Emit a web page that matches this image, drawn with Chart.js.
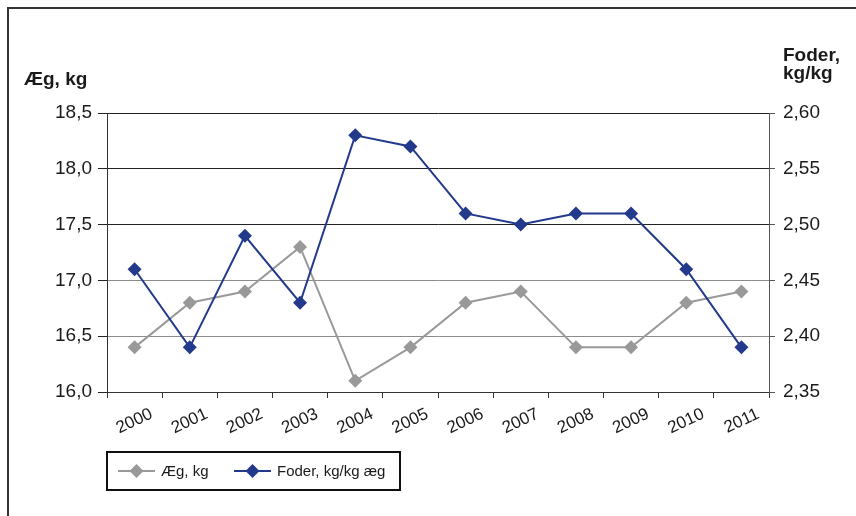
<!DOCTYPE html>
<html lang="da">
<head>
<meta charset="utf-8">
<title>Æg og foder</title>
<style>
  body { margin: 0; background: #fff; }
  #wrap { width: 856px; height: 516px; }
</style>
</head>
<body>
<div id="wrap"><canvas id="myChart" width="856" height="516"></canvas></div>

<script src="https://cdn.jsdelivr.net/npm/chart.js"></script>
<script>
  // data
  const years  = ['2000','2001','2002','2003','2004','2005','2006','2007','2008','2009','2010','2011'];
  const aeg    = [16.4, 16.8, 16.9, 17.3, 16.1, 16.4, 16.8, 16.9, 16.4, 16.4, 16.8, 16.9];
  const foder  = [2.46, 2.39, 2.49, 2.43, 2.58, 2.57, 2.51, 2.50, 2.51, 2.51, 2.46, 2.39];
  const aegLabel   = 'Æg, kg';
  const foderLabel = 'Foder, kg/kg æg';
  const leftTitle  = 'Æg, kg';
  const rightTitle = ['Foder,', 'kg/kg'];

  const GREY = '#999999';
  const BLUE = '#22398c';
  const FONT = '"Liberation Sans", Arial, sans-serif';

  const comma = (v, d) => Number(v).toFixed(d).replace('.', ',');

  // frame, axis titles and boxed legend
  const decor = {
    id: 'decor',
    beforeDraw(chart) {
      const c = chart.ctx;
      c.save();
      c.strokeStyle = '#333';
      c.lineWidth = 2;
      c.beginPath();
      c.moveTo(8, 516);
      c.lineTo(8, 8);
      c.lineTo(856, 8);
      c.stroke();
      c.restore();
    },
    afterDraw(chart) {
      const c = chart.ctx;
      const a = chart.chartArea;
      c.save();
      c.fillStyle = '#1a1a1a';
      c.font = 'bold 19px ' + FONT;
      c.textBaseline = 'alphabetic';
      c.textAlign = 'left';
      c.fillText(leftTitle, 24, 85);
      c.fillText(rightTitle[0], a.right + 14, 61);
      c.fillText(rightTitle[1], a.right + 14, 79);

      // legend box
      const bx = a.left, by = 452, bw = 293, bh = 38;
      c.strokeStyle = '#111';
      c.lineWidth = 2;
      c.strokeRect(bx, by, bw, bh);
      const items = chart.data.datasets.map(d => ({label: d.label, color: d.borderColor}));
      const xs = [bx + 11, bx + 127];
      c.font = '15px ' + FONT;
      c.textBaseline = 'middle';
      items.forEach((it, i) => {
        const x0 = xs[i], y0 = by + bh / 2;
        c.strokeStyle = it.color;
        c.lineWidth = 2;
        c.beginPath();
        c.moveTo(x0, y0);
        c.lineTo(x0 + 37, y0);
        c.stroke();
        c.fillStyle = it.color;
        c.beginPath();
        c.moveTo(x0 + 18.5, y0 - 7);
        c.lineTo(x0 + 25.5, y0);
        c.lineTo(x0 + 18.5, y0 + 7);
        c.lineTo(x0 + 11.5, y0);
        c.closePath();
        c.fill();
        c.fillStyle = '#1a1a1a';
        c.fillText(it.label, x0 + 43, y0 + 1);
      });
      c.restore();
    }
  };

  const ctx = document.getElementById('myChart');

  const chart = new Chart(ctx, {
    type: 'line',
    data: {
      labels: years,
      datasets: [{
        label: aegLabel,
        data: aeg,
        yAxisID: 'y',
        borderColor: GREY,
        backgroundColor: GREY,
        borderWidth: 2,
        pointStyle: 'rectRot',
        pointRadius: 7,
        pointBorderWidth: 0,
        order: 1
      }, {
        label: foderLabel,
        data: foder,
        yAxisID: 'y1',
        borderColor: BLUE,
        backgroundColor: BLUE,
        borderWidth: 2,
        pointStyle: 'rectRot',
        pointRadius: 7,
        pointBorderWidth: 0,
        order: 0
      }]
    },
    options: {
      responsive: false,
      animation: false,
      layout: {padding: {top: 113, left: 0, right: 0, bottom: 0}},
      plugins: {legend: {display: false}, tooltip: {enabled: false}},
      scales: {
        x: {
          offset: true,
          grid: {drawOnChartArea: false, offset: true, tickLength: 6, color: '#333'},
          border: {color: '#333', width: 1},
          ticks: {
            color: '#1a1a1a',
            font: {family: FONT, size: 17},
            minRotation: 25, maxRotation: 25,
            labelOffset: 17,
            padding: 6
          },
          afterFit: (s) => { s.height = 124; }
        },
        y: {
          position: 'left',
          min: 16.0, max: 18.5,
          afterBuildTicks: (axis) => { axis.ticks = [16.0, 16.5, 17.0, 17.5, 18.0, 18.5].map(v => ({value: v})); },
          grid: {
            color: (c) => (c.tick && c.tick.value < 17.5 && c.tick.value > 16.0) ? '#8c8c8c' : '#222',
            tickColor: '#222',
            tickLength: 9
          },
          border: {color: '#333', width: 1},
          ticks: {
            color: '#1a1a1a',
            font: {family: FONT, size: 19},
            padding: 6,
            callback: (v) => comma(v, 1)
          },
          afterFit: (s) => { s.width = 107; }
        },
        y1: {
          position: 'right',
          min: 2.35, max: 2.60,
          afterBuildTicks: (axis) => { axis.ticks = [2.35, 2.40, 2.45, 2.50, 2.55, 2.60].map(v => ({value: v})); },
          grid: {drawOnChartArea: false, tickLength: 6, color: '#555'},
          border: {color: '#555', width: 1},
          ticks: {
            color: '#1a1a1a',
            font: {family: FONT, size: 19},
            padding: 8,
            callback: (v) => comma(v, 2)
          },
          afterFit: (s) => { s.width = 87; }
        }
      }
    },
    plugins: [decor]
  });
</script>
</body>
</html>
